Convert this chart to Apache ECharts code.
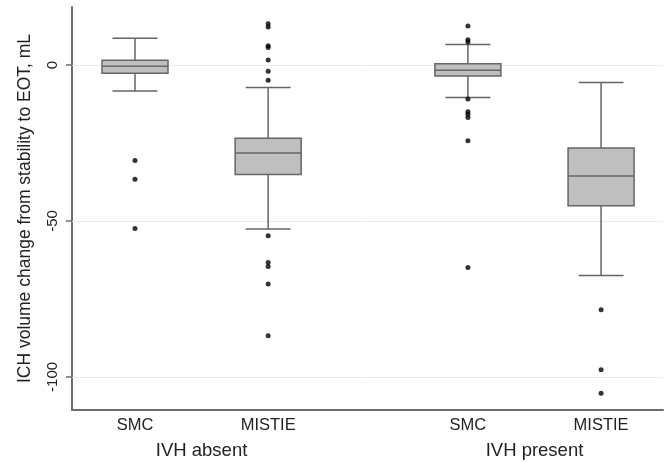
<!DOCTYPE html>
<html>
<head>
<meta charset="utf-8">
<script src="https://cdn.jsdelivr.net/npm/echarts@6/dist/echarts.min.js"></script>
<style>html,body{margin:0;padding:0;background:#fff}#c{width:671px;height:462px}</style>
</head>
<body>
<div id="c"></div>
<script>
// Categories and groups
const categories = ['SMC', 'MISTIE', 'SMC', 'MISTIE'];
const groups = ['IVH absent', 'IVH present'];
const groupOf = [0, 0, 1, 1];
// Position of each box on the x scale (two groups with a gap between them)
const xPos = [1, 2, 3.5, 4.5];
// Box statistics: [lower whisker, Q1, median, Q3, upper whisker]
const smcAbsent = [-8.3, -2.6, -0.4, 1.5, 8.6];
const mistieAbsent = [-52.6, -35.1, -28.2, -23.5, -7.2];
const smcPresent = [-10.4, -3.5, -1.7, 0.4, 6.6];
const mistiePresent = [-67.5, -45.1, -35.6, -26.6, -5.6];
// Outliers
const smcAbsentOut = [-30.6, -36.6, -52.4];
const mistieAbsentOut = [13.2, 12.2, 6.2, 5.6, 1.6, -2.0, -4.9, -54.7, -63.3, -64.6, -70.2, -86.8];
const smcPresentOut = [12.5, 8.1, 7.4, -10.9, -15.0, -15.8, -16.8, -24.3, -64.9];
const mistiePresentOut = [-78.5, -97.7, -105.2];
// Y tick labels
const yTicks = [0, -50, -100];
const yName = 'ICH volume change from stability to EOT, mL';

const boxStats = [smcAbsent, mistieAbsent, smcPresent, mistiePresent];
const outliers = [smcAbsentOut, mistieAbsentOut, smcPresentOut, mistiePresentOut];

const boxData = boxStats.map((s, i) => [xPos[i]].concat(s));
const outData = [];
outliers.forEach((arr, i) => arr.forEach(v => outData.push([xPos[i], v])));
const groupCenters = groups.map((g, gi) => {
  const xs = xPos.filter((x, i) => groupOf[i] === gi);
  return (Math.min(...xs) + Math.max(...xs)) / 2;
});

const FONT = 'Liberation Sans, Arial, sans-serif';
const TXT = '#222';
const AX = '#6e6e6e';
const xMin = 0.527, xMax = 4.965;

const chart = echarts.init(document.getElementById('c'), null, {renderer: 'canvas'});
chart.setOption({
  animation: false,
  backgroundColor: '#fff',
  grid: {left: 72, right: 8, top: 7, bottom: 52, containLabel: false},
  xAxis: [{
    type: 'value', min: xMin, max: xMax,
    axisLine: {show: true, onZero: false, lineStyle: {color: AX, width: 2}},
    axisTick: {show: false},
    splitLine: {show: false},
    axisLabel: {
      customValues: xPos, margin: 7, fontSize: 16.5, color: TXT, fontFamily: FONT,
      formatter: v => categories[xPos.indexOf(v)]
    }
  }, {
    type: 'value', min: xMin, max: xMax, position: 'bottom',
    axisLine: {show: false}, axisTick: {show: false}, splitLine: {show: false},
    axisLabel: {
      customValues: groupCenters, margin: 31, fontSize: 18.5, color: TXT, fontFamily: FONT,
      formatter: v => groups[groupCenters.indexOf(v)]
    }
  }],
  yAxis: {
    type: 'value', min: -110.6, max: 18.6,
    name: yName, nameLocation: 'middle', nameGap: 38, nameRotate: 90,
    nameTextStyle: {fontSize: 17.5, color: TXT, fontFamily: FONT},
    axisLine: {show: true, onZero: false, lineStyle: {color: AX, width: 2}},
    axisTick: {show: true, customValues: yTicks, length: 6, lineStyle: {color: AX, width: 1.5}},
    splitLine: {show: false},
    axisLabel: {customValues: yTicks, rotate: 90, margin: 12, fontSize: 15, color: TXT, fontFamily: FONT}
  },
  series: [{
    type: 'custom',
    xAxisIndex: 0,
    data: boxData,
    encode: {x: 0, y: [1, 2, 3, 4, 5]},
    z: 2,
    markLine: {
      silent: true, symbol: 'none', label: {show: false},
      lineStyle: {color: '#ececec', width: 1, type: 'solid'},
      data: yTicks.map(v => ({yAxis: v})),
      z: 1
    },
    renderItem: function (params, api) {
      const x = api.value(0);
      const lo = api.coord([x, api.value(1)]);
      const q1 = api.coord([x, api.value(2)]);
      const md = api.coord([x, api.value(3)]);
      const q3 = api.coord([x, api.value(4)]);
      const hi = api.coord([x, api.value(5)]);
      const bw = 66, cw = 45, cx = q1[0];
      const ls = {stroke: '#666', lineWidth: 1.5};
      return {
        type: 'group',
        children: [
          {type: 'line', shape: {x1: cx, y1: q3[1], x2: cx, y2: hi[1]}, style: ls},
          {type: 'line', shape: {x1: cx, y1: q1[1], x2: cx, y2: lo[1]}, style: ls},
          {type: 'line', shape: {x1: cx - cw / 2, y1: hi[1], x2: cx + cw / 2, y2: hi[1]}, style: ls},
          {type: 'line', shape: {x1: cx - cw / 2, y1: lo[1], x2: cx + cw / 2, y2: lo[1]}, style: ls},
          {type: 'rect', shape: {x: cx - bw / 2, y: q3[1], width: bw, height: q1[1] - q3[1]},
            style: {fill: '#bfbfbf', stroke: '#666', lineWidth: 1.5}},
          {type: 'line', shape: {x1: cx - bw / 2, y1: md[1], x2: cx + bw / 2, y2: md[1]}, style: ls}
        ]
      };
    }
  }, {
    type: 'scatter',
    xAxisIndex: 0,
    data: outData,
    symbol: 'circle',
    symbolSize: 5,
    itemStyle: {color: '#000'},
    z: 5
  }]
});
</script>
</body>
</html>
